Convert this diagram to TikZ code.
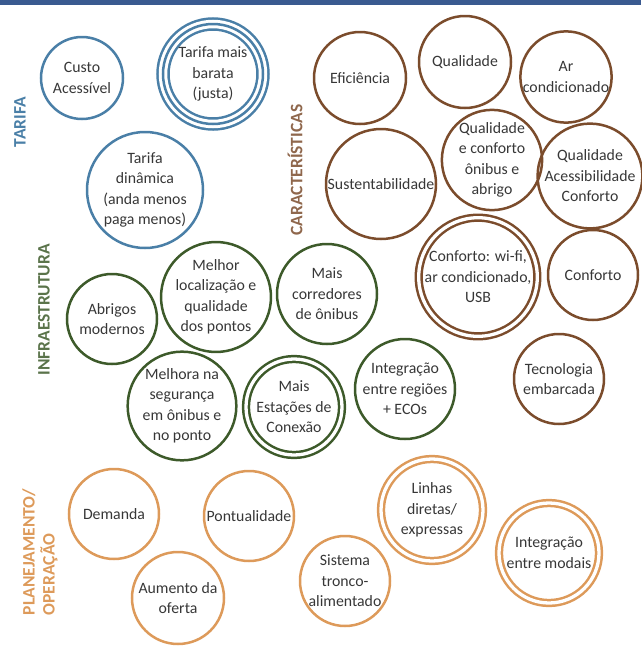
\documentclass[tikz,border=0pt]{standalone}
\usepackage{fontspec}
\setmainfont{Carlito}
\definecolor{barblue}{RGB}{58,90,144}
\definecolor{tarifablue}{RGB}{74,127,167}
\definecolor{caracbrown}{RGB}{123,76,44}
\definecolor{infragreen}{RGB}{61,90,42}
\definecolor{planorange}{RGB}{221,154,90}
\definecolor{textgray}{RGB}{55,55,55}
\newcommand\bolhafont{\fontsize{15.8}{20.5}\selectfont}
\newcommand\grupofont{\fontsize{17.5}{20}\selectfont\bfseries}
\begin{document}
\begin{tikzpicture}[x=1pt, y=-1pt,
  bolha/.style={circle, draw, line width=2.5pt, inner sep=0pt, align=center, text=textgray, font=\bolhafont},
  tarifa/.style={bolha, draw=tarifablue},
  carac/.style={bolha, draw=caracbrown},
  infra/.style={bolha, draw=infragreen},
  plano/.style={bolha, draw=planorange},
  dupla/.style={double=white, double distance=3.3pt},
  tripla/.style={preaction={draw=#1, line width=13.5pt}, preaction={draw=white, line width=8.5pt}},
  grupo/.style={rotate=90, font=\grupofont, align=left}]
\useasboundingbox (0,0) rectangle (641,662);
\fill[barblue] (0,0) rectangle (641,5);

\node[grupo, text=tarifablue] at (20,122) (lbltarifa) {TARIFA};
\node[grupo, text=caracbrown!85] at (295,170) (lblcarac) {CARACTERÍSTICAS};
\node[grupo, text=infragreen!85] at (44,310) (lblinfra) {INFRAESTRUTURA};
\node[grupo, text=planorange] at (40,552) (lblplano) {PLANEJAMENTO/\\OPERAÇÃO};

\node[tarifa, minimum size=82pt] at (82,78) (custo) {Custo\\Acessível};
\node[tarifa, tripla=tarifablue, minimum size=100pt] at (213,74) (barata) {Tarifa mais\\barata\\(justa)};
\node[tarifa, minimum size=116pt] at (145,190) (dinamica) {Tarifa\\dinâmica\\(anda menos\\paga menos)};

\node[carac, minimum size=92pt] at (360,78) (eficiencia) {Eficiência};
\node[carac, minimum size=92pt] at (465,62) (qualidade) {Qualidade};
\node[carac, minimum size=90pt] at (566,77) (arcond) {Ar\\condicionado};
\node[carac, minimum size=110pt] at (381,184) (susten) {Sustentabilidade};
\node[carac, minimum size=90pt] at (492,160) (qualconf) {Qualidade\\e conforto\\ônibus e\\abrigo};
\node[carac, minimum size=88pt] at (590,176) (qualacess) {Qualidade\\Acessibilidade\\Conforto};
\node[carac, dupla, minimum size=116pt] at (478,277) (wifi) {Conforto: wi-fi,\\ar condicionado,\\USB};
\node[carac, minimum size=90pt] at (593,275) (conforto) {Conforto};
\node[carac, minimum size=90pt] at (559,379) (tecno) {Tecnologia\\embarcada};

\node[infra, minimum size=90pt] at (112,319) (abrigos) {Abrigos\\modernos};
\node[infra, minimum size=100pt] at (216,297) (melhorloc) {Melhor\\localização e\\qualidade\\dos pontos};
\node[infra, minimum size=100pt] at (327,294) (corredores) {Mais\\corredores\\de ônibus};
\node[infra, minimum size=100pt] at (182,406) (seguranca) {Melhora na\\segurança\\em ônibus e\\no ponto};
\node[infra, dupla, minimum size=96pt] at (294,407) (estacoes) {Mais\\Estações de\\Conexão};
\node[infra, minimum size=100pt] at (405,389) (integreg) {Integração\\entre regiões\\+ ECOs};

\node[plano, minimum size=90pt] at (114,514) (demanda) {Demanda};
\node[plano, minimum size=90pt] at (249,516) (pontual) {Pontualidade};
\node[plano, minimum size=92pt] at (178,598) (oferta) {Aumento da\\oferta};
\node[plano, minimum size=90pt] at (345,581) (tronco) {Sistema\\tronco-\\alimentado};
\node[plano, dupla, minimum size=102pt] at (432,510) (linhas) {Linhas\\diretas/\\expressas};
\node[plano, dupla, minimum size=100pt] at (549,553) (modais) {Integração\\entre modais};
\end{tikzpicture}
\end{document}
